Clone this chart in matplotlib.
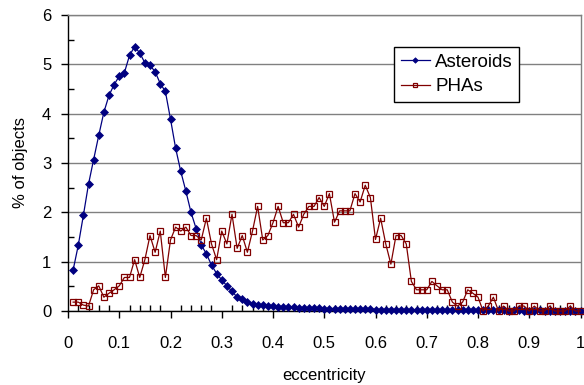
import numpy as np
import matplotlib
matplotlib.use("Agg")
import matplotlib.pyplot as plt
from matplotlib.ticker import MultipleLocator

plt.rcParams['font.family'] = ['Liberation Sans', 'DejaVu Sans']

# excentricidade de 0.01 a 1.00
ecc = np.arange(1, 101) / 100

asteroides = [
    0.83, 1.33, 1.94, 2.57, 3.07, 3.56, 4.03, 4.37, 4.59, 4.76,
    4.83, 5.18, 5.36, 5.23, 5.03, 4.98, 4.85, 4.61, 4.45, 3.89,
    3.30, 2.83, 2.43, 2.00, 1.67, 1.34, 1.16, 0.93, 0.76, 0.63,
    0.51, 0.40, 0.28, 0.24, 0.18, 0.15, 0.13, 0.12, 0.10, 0.10,
    0.09, 0.09, 0.08, 0.08, 0.07, 0.07, 0.06, 0.06, 0.06, 0.05,
    0.05, 0.05, 0.05, 0.05, 0.04, 0.04, 0.04, 0.04, 0.04, 0.03,
    0.03, 0.03, 0.03, 0.03, 0.03, 0.02, 0.02, 0.02, 0.02, 0.02,
    0.02, 0.02, 0.02, 0.02, 0.02, 0.02, 0.02, 0.02, 0.02, 0.02,
    0.02, 0.02, 0.02, 0.02, 0.02, 0.01, 0.02, 0.02, 0.01, 0.01,
    0.01, 0.02, 0.01, 0.01, 0.01, 0.01, 0.01, 0.01, 0.01, 0.01,
]

phas = [
    0.18, 0.18, 0.12, 0.10, 0.43, 0.51, 0.28, 0.36, 0.43, 0.51,
    0.68, 0.68, 1.04, 0.68, 1.04, 1.53, 1.19, 1.62, 0.68, 1.44,
    1.70, 1.62, 1.70, 1.53, 1.53, 1.44, 1.88, 1.36, 1.04, 1.62,
    1.36, 1.96, 1.27, 1.53, 1.19, 1.62, 2.12, 1.44, 1.53, 1.79,
    2.12, 1.79, 1.79, 1.96, 1.70, 1.96, 2.12, 2.12, 2.30, 2.12,
    2.38, 1.80, 2.03, 2.03, 2.03, 2.38, 2.21, 2.55, 2.30, 1.45,
    1.88, 1.36, 0.95, 1.53, 1.53, 1.36, 0.60, 0.43, 0.43, 0.43,
    0.60, 0.51, 0.43, 0.43, 0.18, 0.10, 0.18, 0.43, 0.36, 0.28,
    0.00, 0.10, 0.28, 0.00, 0.10, 0.00, 0.00, 0.10, 0.10, 0.00,
    0.10, 0.00, 0.00, 0.10, 0.00, 0.00, 0.00, 0.10, 0.00, 0.00,
]

rotulos_x = ['0', '0.1', '0.2', '0.3', '0.4', '0.5', '0.6', '0.7', '0.8', '0.9', '1']

fig = plt.figure(figsize=(5.84, 3.85), dpi=100)
ax = fig.add_axes([68 / 584, 74 / 385, 512.5 / 584, 296 / 385])

ax.plot(ecc, asteroides, color='#000080', lw=0.9, marker='D', ms=4,
        mfc='#000080', mec='#000080', mew=0.5, label='Asteroids', clip_on=False, zorder=3)
ax.plot(ecc, phas, color='#800000', lw=0.9, marker='s', ms=5,
        mfc='none', mec='#800000', mew=0.9, label='PHAs', clip_on=False, zorder=4)

ax.set_xlim(0, 1)
ax.set_ylim(0, 6)
ax.set_xticks(np.arange(0, 1.01, 0.1))
ax.set_xticklabels(rotulos_x)
ax.xaxis.set_minor_locator(MultipleLocator(0.02))
ax.yaxis.set_major_locator(MultipleLocator(1))
ax.yaxis.set_minor_locator(MultipleLocator(0.5))
ax.tick_params(axis='both', which='major', direction='out', length=5, width=1,
               labelsize=12, color='black')
ax.tick_params(axis='both', which='minor', direction='in', length=4, width=1, color='black')
ax.tick_params(axis='x', which='major', pad=13)
ax.tick_params(axis='y', which='major', pad=7)

ax.grid(axis='y', which='major', color='#808080', lw=1)
ax.set_axisbelow(True)
for lado in ['left', 'bottom']:
    ax.spines[lado].set_color('black')
    ax.spines[lado].set_linewidth(1)
for lado in ['top', 'right']:
    ax.spines[lado].set_color('#808080')
    ax.spines[lado].set_linewidth(1)

ax.set_xlabel('eccentricity', fontsize=12, labelpad=12)
ax.set_ylabel('% of objects', fontsize=12, labelpad=10)

leg = ax.legend(loc='upper left', bbox_to_anchor=(0.636, 0.892), fontsize=13.5,
                frameon=True, fancybox=False, framealpha=1, edgecolor='black',
                handlelength=1.55, handletextpad=0.3, labelspacing=0.4,
                borderpad=0.35, markerscale=0.7, borderaxespad=0)
leg.get_frame().set_linewidth(1)

fig.savefig('out.png', dpi=100)
